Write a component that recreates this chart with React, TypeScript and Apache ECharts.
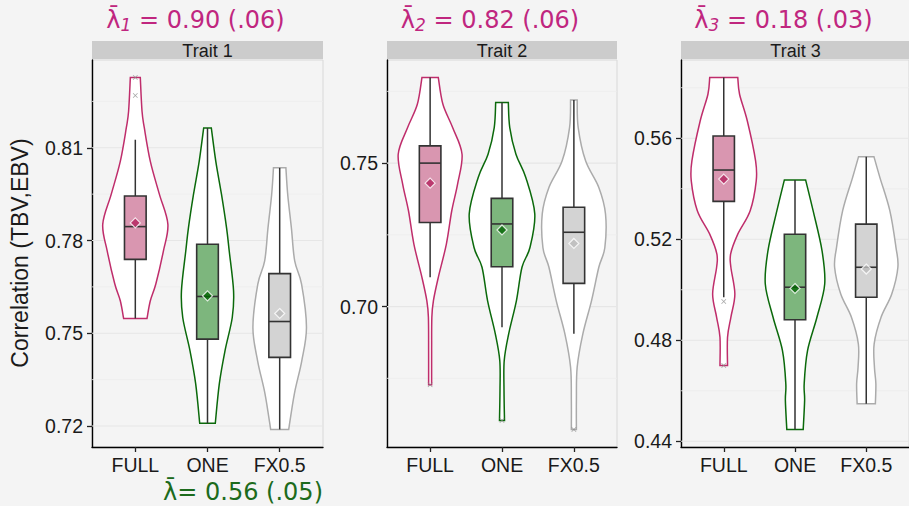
import React, { useEffect, useRef } from 'react';
import * as echarts from 'echarts';

// ---------------- data ----------------
const categories = ['FULL', 'ONE', 'FX0.5'];
const traits = ['Trait 1', 'Trait 2', 'Trait 3'];
const lambdaSubs = ['1', '2', '3'];
const lambdaValues = ['0.90 (.06)', '0.82 (.06)', '0.18 (.03)'];
const lambdaOne = '0.56 (.05)';

const yTicksT1 = [0.72, 0.75, 0.78, 0.81];
const yTicksT2 = [0.7, 0.75];
const yTicksT3 = [0.44, 0.48, 0.52, 0.56];
const yMinorT1 = [0.735, 0.765, 0.795, 0.825];
const yMinorT2 = [0.675, 0.725, 0.775];
const yMinorT3 = [0.46, 0.5, 0.54, 0.58];

// box stats: [lower whisker, Q1, median, Q3, upper whisker]
const boxT1 = [
  [0.7548, 0.7739, 0.7845, 0.7944, 0.8126],
  [0.7209, 0.7481, 0.7619, 0.7788, 0.8164],
  [0.7189, 0.7422, 0.7538, 0.7693, 0.8035],
];
const boxT2 = [
  [0.7102, 0.7293, 0.75, 0.756, 0.7798],
  [0.6928, 0.7139, 0.7288, 0.7377, 0.7711],
  [0.6905, 0.7081, 0.7259, 0.7346, 0.772],
];
const boxT3 = [
  [0.497, 0.535, 0.5474, 0.5609, 0.584],
  [0.4447, 0.4881, 0.501, 0.522, 0.5435],
  [0.4549, 0.497, 0.5089, 0.526, 0.5527],
];
const meanT1 = [0.7857, 0.7621, 0.7564];
const meanT2 = [0.743, 0.7267, 0.722];
const meanT3 = [0.5438, 0.5005, 0.5082];
const outT1 = [[0.8327, 0.8269], [], []];
const outT2 = [[0.6728], [0.6603], [0.6572]];
const outT3 = [[0.4953, 0.47], [], []];

// violin profiles: [value, scaled density (half width in category units)]
const vioT1Full = [[0.7548, 0.162], [0.7605, 0.208], [0.766, 0.285], [0.7766, 0.389], [0.7853, 0.451], [0.795, 0.333], [0.8056, 0.208], [0.8164, 0.125], [0.8218, 0.093], [0.8327, 0.069]];
const vioT1One = [[0.7209, 0.108], [0.7337, 0.164], [0.7444, 0.243], [0.7551, 0.343], [0.7637, 0.361], [0.7766, 0.301], [0.7841, 0.264], [0.7949, 0.194], [0.8056, 0.115], [0.8164, 0.053]];
const vioT1Fx = [[0.7189, 0.125], [0.7305, 0.204], [0.7411, 0.306], [0.7519, 0.371], [0.7659, 0.303], [0.7734, 0.208], [0.7841, 0.162], [0.7949, 0.111], [0.8035, 0.086]];
const vioT2Full = [[0.6728, 0.021], [0.6847, 0.021], [0.6963, 0.024], [0.7021, 0.046], [0.7102, 0.114], [0.7218, 0.226], [0.7334, 0.301], [0.7427, 0.382], [0.7531, 0.444], [0.7624, 0.313], [0.7705, 0.178], [0.7798, 0.114]];
const vioT2One = [[0.6603, 0.035], [0.6708, 0.028], [0.6812, 0.031], [0.6905, 0.093], [0.7021, 0.201], [0.7137, 0.278], [0.7206, 0.389], [0.7323, 0.456], [0.745, 0.331], [0.7531, 0.194], [0.7624, 0.108], [0.7711, 0.088]];
const vioT2Fx = [[0.6572, 0.035], [0.6673, 0.035], [0.6789, 0.046], [0.6905, 0.125], [0.7021, 0.246], [0.7137, 0.347], [0.7206, 0.431], [0.7323, 0.44], [0.7415, 0.347], [0.7508, 0.163], [0.7624, 0.06], [0.772, 0.046]];
const vioT3Full = [[0.47, 0.053], [0.4812, 0.053], [0.4891, 0.1], [0.4983, 0.156], [0.5089, 0.1], [0.5142, 0.097], [0.522, 0.197], [0.5313, 0.371], [0.5431, 0.456], [0.551, 0.447], [0.5668, 0.331], [0.5774, 0.222], [0.584, 0.197]];
const vioT3One = [[0.4447, 0.115], [0.4562, 0.135], [0.4628, 0.129], [0.4759, 0.176], [0.4891, 0.308], [0.5023, 0.417], [0.5155, 0.379], [0.5313, 0.254], [0.5435, 0.149]];
const vioT3Fx = [[0.4549, 0.128], [0.4628, 0.135], [0.4693, 0.115], [0.4786, 0.111], [0.4891, 0.208], [0.4983, 0.358], [0.5089, 0.444], [0.5168, 0.417], [0.5313, 0.331], [0.5444, 0.192], [0.5527, 0.108]];

// ---------------- styles ----------------
const outlineColors = ['#BF2D6B', '#0B690B', '#ABABAB'];
const boxFills = ['#D996B0', '#7DB67D', '#D3D3D3'];
const meanColors = ['#B3225E', '#006400', '#BDBDBD'];
const BG = '#F4F4F4';
const TEXT = '#1A1A1A';
const MAGENTA = '#C0267F';
const GREEN = '#1C6B1C';
const SANS = 'Liberation Sans, Arial, sans-serif';
const DEJAVU = 'DejaVu Sans, sans-serif';

const panels = [
  { left: 92, width: 231, box: boxT1, mean: meanT1, out: outT1, vio: [vioT1Full, vioT1One, vioT1Fx], ticks: yTicksT1, minor: yMinorT1 },
  { left: 387, width: 230, box: boxT2, mean: meanT2, out: outT2, vio: [vioT2Full, vioT2One, vioT2Fx], ticks: yTicksT2, minor: yMinorT2 },
  { left: 681, width: 229, box: boxT3, mean: meanT3, out: outT3, vio: [vioT3Full, vioT3One, vioT3Fx], ticks: yTicksT3, minor: yMinorT3 },
];
const TOP = 60;
const HEIGHT = 387;

function catmull(pts: number[][]): string {
  let d = '';
  for (let i = 0; i < pts.length - 1; i++) {
    const p0 = pts[Math.max(0, i - 1)];
    const p1 = pts[i];
    const p2 = pts[i + 1];
    const p3 = pts[Math.min(pts.length - 1, i + 2)];
    const c1x = p1[0] + (p2[0] - p0[0]) / 6;
    const c1y = p1[1] + (p2[1] - p0[1]) / 6;
    const c2x = p2[0] - (p3[0] - p1[0]) / 6;
    const c2y = p2[1] - (p3[1] - p1[1]) / 6;
    d += ` C${c1x},${c1y} ${c2x},${c2y} ${p2[0]},${p2[1]}`;
  }
  return d;
}

function buildOption() {
  const grid: any[] = [];
  const xAxis: any[] = [];
  const yAxis: any[] = [];
  const series: any[] = [];
  const graphic: any[] = [];

  panels.forEach((p, i) => {
    grid.push({
      left: p.left, top: TOP, width: p.width, height: HEIGHT,
      show: true, borderColor: '#D8D8D8', borderWidth: 1, backgroundColor: 'transparent',
    });
    xAxis.push({
      type: 'value', gridIndex: i, min: 0.4, max: 3.6,
      axisLine: { show: true, onZero: false, lineStyle: { color: '#000', width: 1.4 } },
      axisTick: { show: true, customValues: [1, 2, 3], length: 5, lineStyle: { color: '#222', width: 1.3 } },
      axisLabel: {
        customValues: [1, 2, 3], margin: 8, color: TEXT, fontSize: 19.5,
        fontFamily: SANS,
        formatter: (v: number) => categories[Math.round(v) - 1] || '',
      },
      splitLine: { show: false },
    });
    // ggplot-like 5% expansion of data range
    let lo = Infinity, hi = -Infinity;
    p.vio.forEach((prof) => prof.forEach(([v]) => { lo = Math.min(lo, v); hi = Math.max(hi, v); }));
    p.out.forEach((o) => o.forEach((v) => { lo = Math.min(lo, v); hi = Math.max(hi, v); }));
    const pad = (hi - lo) * 0.05;
    yAxis.push({
      type: 'value', gridIndex: i, min: lo - pad, max: hi + pad,
      axisLine: { show: true, onZero: false, lineStyle: { color: '#000', width: 1.4 } },
      axisTick: { show: true, customValues: p.ticks, length: 5, lineStyle: { color: '#222', width: 1.3 } },
      axisLabel: {
        customValues: p.ticks, margin: 9, color: TEXT, fontSize: 19.5,
        fontFamily: SANS,
        formatter: (v: number) => v.toFixed(2),
      },
      splitLine: { show: false },
    });

    // gridlines
    const gridData = [
      ...p.minor.map((v) => [0.4, v, 0]),
      ...p.ticks.map((v) => [0.4, v, 1]),
    ];
    series.push({
      type: 'custom', xAxisIndex: i, yAxisIndex: i, z: 1, silent: true,
      data: gridData, encode: { x: 0, y: 1 },
      renderItem: (params: any, api: any) => {
        const v = api.value(1);
        const major = api.value(2) === 1;
        const a = api.coord([0.4, v]);
        const b = api.coord([3.6, v]);
        return {
          type: 'line',
          shape: { x1: a[0], y1: a[1], x2: b[0], y2: b[1] },
          style: { stroke: major ? '#E6E6E6' : '#ECECEC', lineWidth: major ? 1.1 : 0.8 },
        };
      },
    });

    // violins
    series.push({
      type: 'custom', xAxisIndex: i, yAxisIndex: i, z: 2, silent: true,
      data: p.vio.map((prof, j) => [j + 1, prof[0][0], prof[prof.length - 1][0]]),
      encode: { x: 0, y: [1, 2] },
      renderItem: (params: any, api: any) => {
        const j = params.dataIndex;
        const x = api.value(0);
        const prof = p.vio[j];
        const right = prof.map(([v, w]) => api.coord([x + w, v]));
        const left = prof.map(([v, w]) => api.coord([x - w, v])).reverse();
        const d = `M${right[0][0]},${right[0][1]}` + catmull(right) +
          ` L${left[0][0]},${left[0][1]}` + catmull(left) + ' Z';
        return {
          type: 'path',
          shape: { pathData: d },
          style: { fill: '#FFFFFF', stroke: outlineColors[j], lineWidth: 1.5 },
        };
      },
    });

    // boxes
    series.push({
      type: 'custom', xAxisIndex: i, yAxisIndex: i, z: 3, silent: true,
      data: p.box.map((b, j) => [j + 1, ...b]),
      encode: { x: 0, y: [1, 2, 3, 4, 5] },
      renderItem: (params: any, api: any) => {
        const j = params.dataIndex;
        const x = api.value(0);
        const bw = 0.15;
        const wl = api.coord([x, api.value(1)]);
        const q1 = api.coord([x - bw, api.value(2)]);
        const md = api.coord([x - bw, api.value(3)]);
        const mdR = api.coord([x + bw, api.value(3)]);
        const q3 = api.coord([x + bw, api.value(4)]);
        const wh = api.coord([x, api.value(5)]);
        const c = api.coord([x, api.value(2)]);
        const c3 = api.coord([x, api.value(4)]);
        const lineStyle = { stroke: '#333333', lineWidth: 1.5 };
        return {
          type: 'group',
          children: [
            { type: 'line', shape: { x1: wl[0], y1: wl[1], x2: c[0], y2: c[1] }, style: lineStyle },
            { type: 'line', shape: { x1: c3[0], y1: c3[1], x2: wh[0], y2: wh[1] }, style: lineStyle },
            {
              type: 'rect',
              shape: { x: q1[0], y: q3[1], width: q3[0] - q1[0], height: q1[1] - q3[1] },
              style: { fill: boxFills[j], stroke: '#333333', lineWidth: 1.6 },
            },
            { type: 'line', shape: { x1: md[0], y1: md[1], x2: mdR[0], y2: mdR[1] }, style: { stroke: '#333333', lineWidth: 1.6 } },
          ],
        };
      },
    });

    // means
    series.push({
      type: 'scatter', xAxisIndex: i, yAxisIndex: i, z: 4, silent: true,
      symbol: 'diamond', symbolSize: 10,
      data: p.mean.map((m, j) => ({
        value: [j + 1, m],
        itemStyle: { color: meanColors[j], borderColor: '#FFFFFF', borderWidth: 1.2 },
      })),
    });

    // outliers
    const outData: number[][] = [];
    p.out.forEach((arr, j) => arr.forEach((v) => outData.push([j + 1, v])));
    series.push({
      type: 'scatter', xAxisIndex: i, yAxisIndex: i, z: 5, silent: true,
      symbol: 'path://M1,0L5,4L9,0L10,1L6,5L10,9L9,10L5,6L1,10L0,9L4,5L0,1Z',
      symbolSize: 5,
      itemStyle: { color: '#8C8C8C' },
      data: outData,
    });

    // strip
    graphic.push({
      type: 'rect', z: 10,
      shape: { x: p.left, y: 41, width: p.width, height: 18 },
      style: { fill: '#CCCCCC' },
    });
    graphic.push({
      type: 'text', z: 11,
      x: p.left + p.width / 2, y: 51,
      style: {
        text: traits[i], fill: TEXT, fontSize: 18,
        fontFamily: SANS,
        align: 'center', verticalAlign: 'middle',
      },
    });
    // lambda titles
    graphic.push({
      type: 'text', z: 11,
      x: p.left + p.width / 2 - 12, y: 20,
      style: {
        text: `{l|λ̄}{s|${lambdaSubs[i]}}{l| = ${lambdaValues[i]}}`,
        align: 'center', verticalAlign: 'middle',
        rich: {
          l: { fontSize: 24, fill: MAGENTA, fontFamily: DEJAVU },
          s: { fontSize: 17, fill: MAGENTA, fontStyle: 'italic', fontFamily: DEJAVU, padding: [9, 0, 0, 0] },
        },
      },
    });
  });

  graphic.push({
    type: 'text', z: 11,
    x: 323, y: 492,
    style: {
      text: `λ̄= ${lambdaOne}`, fill: GREEN, fontSize: 24,
      fontFamily: DEJAVU, align: 'right', verticalAlign: 'middle',
    },
  });
  graphic.push({
    type: 'text', z: 11,
    x: 20, y: 253, rotation: Math.PI / 2,
    style: {
      text: 'Correlation (TBV,EBV)', fill: TEXT, fontSize: 23,
      fontFamily: SANS, align: 'center', verticalAlign: 'middle',
    },
  });

  return {
    animation: false,
    backgroundColor: BG,
    grid, xAxis, yAxis, series, graphic,
  };
}

export default function App() {
  const ref = useRef<HTMLDivElement>(null);
  useEffect(() => {
    document.body.style.margin = '0';
    document.body.style.background = BG;
    if (!ref.current) return;
    const chart = echarts.init(ref.current, undefined, { renderer: 'svg' });
    chart.setOption(buildOption() as any);
    return () => chart.dispose();
  }, []);
  return <div ref={ref} style={{ width: 909, height: 506 }} />;
}
